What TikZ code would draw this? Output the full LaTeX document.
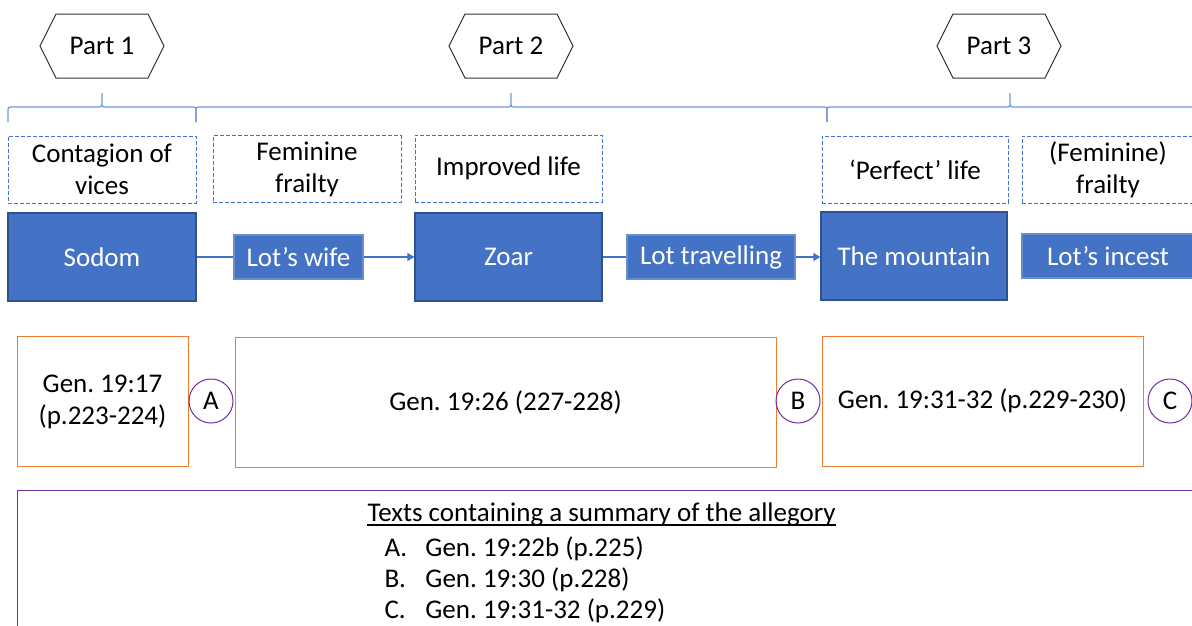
\documentclass[tikz,border=0pt]{standalone}
\usepackage{fontspec}
\setmainfont{Carlito}
\frenchspacing
\usetikzlibrary{arrows.meta,shapes.symbols,calc}
\definecolor{boxblue}{HTML}{4472C4}
\definecolor{edgeblue}{HTML}{2F528F}
\definecolor{braceblue}{HTML}{7396D8}
\definecolor{refred}{HTML}{ED7D31}
\definecolor{refpurple}{HTML}{7030A0}

\begin{document}
\begin{tikzpicture}[x=1pt,y=-1pt,line width=1pt,
    every node/.style={font=\fontsize{27}{32}\selectfont,inner sep=2pt,align=center},
    >={Triangle[length=7pt,width=8pt]},
    part/.style={draw=black!80,signal,signal to=west and east,
      signal pointer angle=127,minimum width=124,minimum height=64},
    theme/.style={draw=boxblue,dash pattern=on 4pt off 2pt,minimum height=67},
    scene/.style={draw=edgeblue,line width=1.2pt,fill=boxblue,text=white,minimum height=88},
    move/.style={draw=boxblue!80!white,line width=1.2pt,fill=boxblue,text=white,minimum height=44},
    ref/.style={draw=refred,minimum height=130},
    letter/.style={draw=refpurple,circle,minimum size=44,inner sep=0pt},
    link/.style={draw=boxblue,line width=1.5pt}]
  \useasboundingbox (0,0) rectangle (1192,625);
  \clip (0,0) rectangle (1192,625);
  % parts and braces
  \node[part] (part1) at (102,46) {Part 1};
  \node[part] (part2) at (511,46) {Part 2};
  \node[part] (part3) at (999,46) {Part 3};
  \foreach \a/\m/\b in {8/102/196,196/511/827,827/1010/1194}
    \draw[braceblue,line width=1.2pt] (\a,122) -- (\a,112) .. controls (\a,107) .. (\a+5,107)
      -- (\m-5,107) .. controls (\m,107) .. (\m,102) -- (\m,93)
      -- (\m,102) .. controls (\m,107) .. (\m+5,107)
      -- (\b-5,107) .. controls (\b,107) .. (\b,112) -- (\b,122);
  % themes
  \node[theme,minimum width=188] (vices) at (102,169.5) {Contagion of\\vices};
  \node[theme,minimum width=188] (frailty) at (307,169) {Feminine\\frailty};
  \node[theme,minimum width=187] (improved) at (508.5,168.5) {Improved life};
  \node[theme,minimum width=186] (perfect) at (915,169.5) {`Perfect' life};
  \node[theme,minimum width=172] (frailty2) at (1108,169.5) {(Feminine)\\frailty};
  % scenes
  \node[scene,minimum width=188] (sodom) at (102,257) {Sodom};
  \node[move,minimum width=129] (wife) at (298.5,257) {Lot's wife};
  \node[scene,minimum width=187] (zoar) at (508.5,257) {Zoar};
  \node[move,minimum width=168] (travel) at (711,257) {Lot travelling};
  \node[scene,minimum width=186] (mountain) at (914,256) {The mountain};
  \node[move,minimum width=172] (incest) at (1108,256) {Lot's incest};
  \draw[link] (sodom) -- (wife);
  \draw[link,->] (wife) -- (zoar);
  \draw[link] (zoar) -- (travel);
  \draw[link,->] (travel) -- (travel -| mountain.west);
  % references
  \node[ref,minimum width=171] (gen17) at (102.5,401.5) {Gen. 19:17\\(p.223-224)};
  \node[ref,minimum width=541] (gen26) at (505.5,402) {Gen. 19:26 (227-228)};
  \node[ref,minimum width=321] (gen31) at (982.5,401) {Gen. 19:31-32 (p.229-230)};
  \node[letter] (sumA) at (211,401) {A};
  \node[letter] (sumB) at (798,401) {B};
  \node[letter] (sumC) at (1170,401) {C};
  % summary
  \node[draw=refpurple,anchor=north west,minimum width=1200,minimum height=200] (summary) at (17,490) {};
  \node[anchor=base west,inner sep=0pt] (sumhead) at (367,521) {Texts containing a summary of the allegory};
  \draw[line width=1.6pt] ($(sumhead.base west)+(0,4)$) -- ($(sumhead.base east)+(0,4)$);
  \node[anchor=base west,inner sep=0pt] (itemA) at (384,556) {\makebox[41pt][l]{A.}Gen. 19:22b (p.225)};
  \node[anchor=base west,inner sep=0pt] (itemB) at (384,587) {\makebox[41pt][l]{B.}Gen. 19:30 (p.228)};
  \node[anchor=base west,inner sep=0pt] (itemC) at (384,618) {\makebox[41pt][l]{C.}Gen. 19:31-32 (p.229)};
\end{tikzpicture}
\end{document}
